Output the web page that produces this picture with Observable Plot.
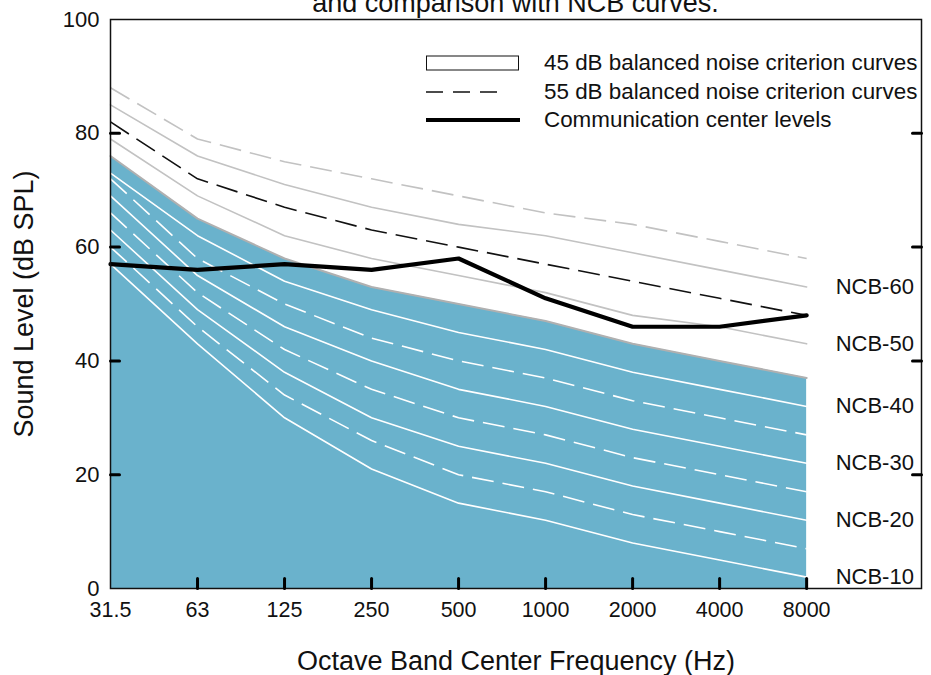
<!DOCTYPE html>
<html>
<head>
<meta charset="utf-8">
<script src="https://cdn.jsdelivr.net/npm/d3@7"></script>
<script src="https://cdn.jsdelivr.net/npm/@observablehq/plot@0.6"></script>
<style>
  body { margin: 0; background: #fff; font-family: "Liberation Sans", Arial, Helvetica, sans-serif; }
  #wrap { position: relative; width: 931px; height: 675px; overflow: hidden; }
  #title { position: absolute; left: 0; top: -10px; width: 1031px; text-align: center; font-size: 27px; line-height: 26px; color: #111; white-space: nowrap; }
  #chart { position: absolute; left: 0; top: 0; }
  .lrow { position: absolute; left: 426px; height: 28px; display: flex; align-items: center; font-size: 22.4px; color: #111; white-space: nowrap; }
  .lrow svg { display: block; margin-right: 24px; }
</style>
</head>
<body>
<div id="wrap">
  <div id="chart"></div>
  <div id="title">and comparison with NCB curves.</div>
  <div id="legend"></div>
</div>
<script>
// ---- data ----
const freqLabels = ["31.5", "63", "125", "250", "500", "1000", "2000", "4000", "8000"];
const ncb10 = [57, 43, 30, 21, 15, 12, 8, 5, 2];
const ncb15 = [60, 46, 34, 26, 20, 17, 13, 10, 7];
const ncb20 = [63, 49, 38, 30, 25, 22, 18, 15, 12];
const ncb25 = [66, 52, 42, 35, 30, 27, 23, 20, 17];
const ncb30 = [69, 55, 46, 40, 35, 32, 28, 25, 22];
const ncb35 = [72, 58, 50, 44, 40, 37, 33, 30, 27];
const ncb40 = [73, 62, 54, 49, 45, 42, 38, 35, 32];
const ncb45 = [76, 65, 58, 53, 50, 47, 43, 40, 37];
const ncb50 = [79, 69, 62, 58, 55, 52, 48, 46, 43];
const ncb55 = [82, 72, 67, 63, 60, 57, 54, 51, 48];
const ncb60 = [85, 76, 71, 67, 64, 62, 59, 56, 53];
const ncb65 = [88, 79, 75, 72, 69, 66, 64, 61, 58];
const commLevels = [57, 56, 57, 56, 58, 51, 46, 46, 48];
const yTickValues = [0, 20, 40, 60, 80, 100];
const yInnerTicks = [20, 40, 60, 80];
const xTickIndex = [0, 1, 2, 3, 4, 5, 6, 7, 8];
const ncbLabelNames = ["NCB-10", "NCB-20", "NCB-30", "NCB-40", "NCB-50", "NCB-60"];
const ncbLabelCurves = [ncb10, ncb20, ncb30, ncb40, ncb50, ncb60];
const legendLabels = ["45 dB balanced noise criterion curves", "55 dB balanced noise criterion curves", "Communication center levels"];
const xLabel = "Octave Band Center Frequency (Hz)";
const yLabel = "Sound Level (dB SPL)";

// ---- helpers ----
const rows = (vals) => vals.map((v, i) => ({i, v}));
const last = freqLabels.length - 1;
const tickShape = { draw(ctx, l) { ctx.moveTo(0, 0); ctx.lineTo(0, -l); } };
const BLUE = "#6ab2cc";
const GREY = "#c2c2c2";
const DASH = "22,9";

const whiteSolid = [ncb10, ncb20, ncb30, ncb40];
const whiteDashed = [ncb15, ncb25, ncb35];

const labelRows = ncbLabelNames.map((name, k) => ({name, i: last, v: ncbLabelCurves[k][last]}));

const marks = [
  Plot.areaY(rows(ncb45), {x: "i", y: "v", fill: BLUE}),
  ...whiteSolid.map(c => Plot.lineY(rows(c), {x: "i", y: "v", stroke: "white", strokeWidth: 1.6})),
  ...whiteDashed.map(c => Plot.lineY(rows(c), {x: "i", y: "v", stroke: "white", strokeWidth: 1.6, strokeDasharray: DASH, strokeLinecap: "butt"})),
  Plot.lineY(rows(ncb45), {x: "i", y: "v", stroke: "#b0b0b0", strokeWidth: 2}),
  Plot.lineY(rows(ncb50), {x: "i", y: "v", stroke: GREY, strokeWidth: 1.6}),
  Plot.lineY(rows(ncb60), {x: "i", y: "v", stroke: GREY, strokeWidth: 1.6}),
  Plot.lineY(rows(ncb65), {x: "i", y: "v", stroke: GREY, strokeWidth: 1.6, strokeDasharray: DASH, strokeLinecap: "butt"}),
  Plot.lineY(rows(ncb55), {x: "i", y: "v", stroke: "#111", strokeWidth: 1.6, strokeDasharray: DASH, strokeLinecap: "butt"}),
  Plot.lineY(rows(commLevels), {x: "i", y: "v", stroke: "#000", strokeWidth: 4.2}),
  Plot.text(labelRows, {x: "i", y: "v", text: "name", textAnchor: "start", dx: 29, fontSize: 22, fill: "#111"}),
  Plot.frame({stroke: "#111", strokeWidth: 1.5}),
  Plot.vector(xTickIndex.slice(1), {x: d => d, frameAnchor: "bottom", length: 10, rotate: 0, anchor: "start", shape: tickShape, stroke: "#000", strokeWidth: 3}),
  Plot.vector(yInnerTicks, {y: d => d, frameAnchor: "left", length: 9, rotate: 90, anchor: "start", shape: tickShape, stroke: "#000", strokeWidth: 3}),
  Plot.vector(yInnerTicks, {y: d => d, frameAnchor: "right", length: 9, rotate: -90, anchor: "start", shape: tickShape, stroke: "#000", strokeWidth: 3}),
  Plot.axisY(yTickValues, {tickSize: 0, tickPadding: 11, fontSize: 22, label: null, fill: "#111"}),
  Plot.axisY([], {tickSize: 0, label: yLabel, labelAnchor: "center", labelArrow: "none", labelOffset: 97, fontSize: 27, fill: "#111"}),
  Plot.axisX(xTickIndex, {tickSize: 0, tickPadding: 13, fontSize: 21.5, label: null, tickFormat: i => freqLabels[i], fill: "#111"}),
  Plot.text([xLabel], {frameAnchor: "bottom", dy: 73, fontSize: 27, lineAnchor: "middle", fill: "#111"})
];

const chart = Plot.plot({
  width: 931,
  height: 675,
  marginTop: 19,
  marginBottom: 87,
  marginLeft: 110,
  marginRight: 10,
  style: {fontFamily: "'Liberation Sans', Arial, Helvetica, sans-serif", background: "white", overflow: "visible"},
  x: {type: "linear", domain: [0, 9.32]},
  y: {domain: [0, 100]},
  marks
});
document.getElementById("chart").appendChild(chart);

// ---- legend (inside plot area, HTML overlay) ----
const legendCenters = [63, 92, 120];
const legendSwatches = [
  '<svg width="94" height="28"><rect x="0.5" y="7" width="92" height="14" fill="white" stroke="#111" stroke-width="1"/></svg>',
  '<svg width="94" height="28"><line x1="0" x2="75" y1="14" y2="14" stroke="#111" stroke-width="1.4" stroke-dasharray="17,10"/></svg>',
  '<svg width="94" height="28"><line x1="0" x2="94" y1="14" y2="14" stroke="#000" stroke-width="4.2" stroke-linecap="round"/></svg>'
];
const legend = document.getElementById("legend");
legendLabels.forEach((lab, k) => {
  const row = document.createElement("div");
  row.className = "lrow";
  row.style.top = (legendCenters[k] - 14) + "px";
  row.innerHTML = legendSwatches[k] + "<span>" + lab + "</span>";
  legend.appendChild(row);
});
</script>
</body>
</html>
